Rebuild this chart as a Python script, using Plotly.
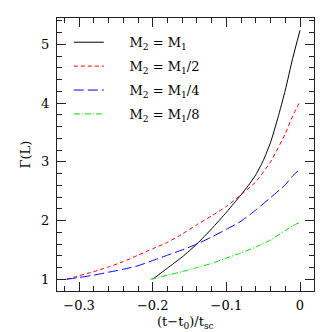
import plotly.graph_objects as go

x_black = [-0.2, -0.18, -0.16, -0.14, -0.12, -0.10, -0.09, -0.08, -0.07, -0.06, -0.05, -0.04, -0.03, -0.02, -0.01, 0.0]
y_black = [1.0, 1.19, 1.38, 1.60, 1.86, 2.14, 2.29, 2.44, 2.60, 2.78, 3.02, 3.33, 3.75, 4.22, 4.76, 5.24]

x_red = [-0.317, -0.3, -0.28, -0.26, -0.24, -0.22, -0.20, -0.18, -0.16, -0.14, -0.12, -0.10, -0.08, -0.06, -0.04, -0.02, -0.01, 0.0]
y_red = [1.0, 1.06, 1.13, 1.21, 1.30, 1.41, 1.52, 1.63, 1.77, 1.93, 2.08, 2.24, 2.44, 2.66, 3.00, 3.48, 3.78, 4.03]

x_blue = [-0.317, -0.3, -0.28, -0.26, -0.24, -0.22, -0.20, -0.18, -0.16, -0.14, -0.12, -0.10, -0.08, -0.06, -0.04, -0.02, -0.01, 0.0]
y_blue = [1.0, 1.03, 1.07, 1.12, 1.17, 1.23, 1.32, 1.41, 1.50, 1.60, 1.72, 1.85, 1.99, 2.18, 2.39, 2.61, 2.76, 2.88]

x_green = [-0.203, -0.18, -0.16, -0.14, -0.12, -0.10, -0.08, -0.06, -0.04, -0.02, -0.01, 0.0]
y_green = [1.0, 1.07, 1.13, 1.20, 1.27, 1.36, 1.45, 1.55, 1.67, 1.83, 1.91, 1.97]

PAD = "&nbsp;" * 5
names = [PAD + "M<sub>2</sub> = M<sub>1</sub>", PAD + "M<sub>2</sub> = M<sub>1</sub>/2",
         PAD + "M<sub>2</sub> = M<sub>1</sub>/4", PAD + "M<sub>2</sub> = M<sub>1</sub>/8"]
x_title = "(t−t<sub>0</sub>)/t<sub>sc</sub>"
y_title = "Γ(L)"

FONT = "DejaVu Serif"

fig = go.Figure()
series = [
    (x_black, y_black, "black", "solid"),
    (x_red, y_red, "red", "4px,3px"),
    (x_blue, y_blue, "blue", "10px,4px"),
    (x_green, y_green, "#00dd00", "6px,2px,1px,2px"),
]
for i, ((xs, ys, c, d), n) in enumerate(zip(series, names)):
    fig.add_trace(go.Scatter(x=xs, y=ys, mode="lines", name=n, legendgroup=f"g{i}",
                             line=dict(color=c, width=1, dash=d, shape="spline", smoothing=0.5)))

axis_common = dict(
    showgrid=False, zeroline=False, showline=True, linecolor="#222", linewidth=1,
    mirror="allticks", ticks="inside", ticklen=9, tickcolor="#222", automargin=False,
    tickfont=dict(family=FONT, size=13, color="black"),
)
fig.update_xaxes(range=[-0.33, 0.019], dtick=0.1, tick0=0, ticklabelstandoff=2,
                 minor=dict(dtick=0.02, ticks="inside", ticklen=5, tickcolor="#222"),
                 **axis_common)
fig.update_yaxes(range=[0.8, 5.45], dtick=1, tick0=0, ticklabelstandoff=4,
                 minor=dict(dtick=0.2, ticks="inside", ticklen=5, tickcolor="#222"),
                 **axis_common)
fig.add_annotation(text=x_title, xref="paper", yref="paper", x=0.5, y=0, yshift=-31,
                   xanchor="center", yanchor="middle", showarrow=False,
                   font=dict(family=FONT, size=13, color="black"))
fig.add_annotation(text=y_title, xref="paper", yref="paper", x=0, y=0.5, xshift=-32,
                   xanchor="center", yanchor="middle", showarrow=False, textangle=-90,
                   font=dict(family=FONT, size=13, color="black"))
# the page body adds an 8px margin, so the figure is 8px smaller and offset accordingly
fig.update_layout(
    width=324, height=324,
    margin=dict(l=49, r=18, t=10, b=41, autoexpand=False),
    plot_bgcolor="white", paper_bgcolor="white",
    legend=dict(x=0.046, y=0.966, xanchor="left", yanchor="top", bgcolor="rgba(0,0,0,0)",
                font=dict(family=FONT, size=13, color="black"), itemwidth=30, tracegroupgap=4),
    showlegend=True,
)
fig.write_html("out.html")
